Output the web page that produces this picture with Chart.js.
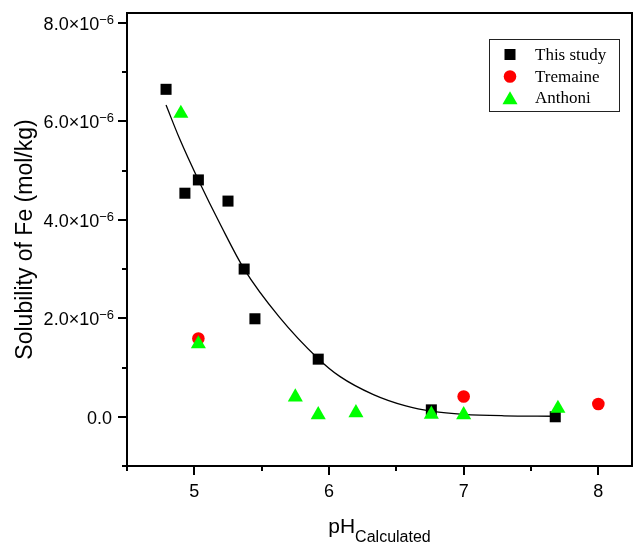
<!DOCTYPE html>
<html lang="en">
<head>
    <meta charset="UTF-8">
    <title>Solubility of Fe vs pH</title>
    <style>
        body { margin: 0; background: #fff; }
        canvas { display: block; }
    </style>
</head>
<body>
    <canvas id="feChart" width="634" height="543"></canvas>

    <script src="https://cdn.jsdelivr.net/npm/chart.js"></script>
    <script>
        // Data (solubility in mol/kg)
        const studyPH = [4.79, 4.93, 5.03, 5.25, 5.37, 5.45, 5.92, 6.76, 7.68];
        const studySol = [6.65e-6, 4.54e-6, 4.81e-6, 4.38e-6, 3.0e-6, 1.99e-6, 1.17e-6, 0.14e-6, 0.0];

        const tremainePH = [5.03, 7.0, 8.0];
        const tremaineSol = [1.59e-6, 0.41e-6, 0.26e-6];

        const anthoniPH = [4.90, 5.03, 5.75, 5.92, 6.20, 6.76, 7.0, 7.70];
        const anthoniSol = [6.16e-6, 1.48e-6, 0.40e-6, 0.04e-6, 0.08e-6, 0.05e-6, 0.04e-6, 0.17e-6];

        // fitted curve
        const fitPH = [4.79, 4.89, 5.03, 5.2, 5.37, 5.63, 5.92, 6.08, 6.33, 6.57, 6.77, 7.0, 7.3, 7.67];
        const fitSol = [6.33e-6, 5.65e-6, 4.81e-6, 3.87e-6, 3.0e-6, 2.03e-6, 1.18e-6, 0.82e-6, 0.45e-6, 0.22e-6, 0.11e-6, 0.05e-6, 0.02e-6, 0.01e-6];

        // ticks
        const xMajorTicks = [5, 6, 7, 8];
        const xMinorTicks = [4.5, 5.5, 6.5, 7.5];
        const yMajorTicks = [0, 2e-6, 4e-6, 6e-6, 8e-6];
        const yMinorTicks = [-1e-6, 1e-6, 3e-6, 5e-6, 7e-6];
        const yTickLabels = ['0.0', '2.0×10', '4.0×10', '6.0×10', '8.0×10'];
        const yTickExps = ['', '−6', '−6', '−6', '−6'];

        const seriesNames = ['This study', 'Tremaine', 'Anthoni'];

        const toPoints = (xs, ys) => xs.map((x, i) => ({ x: x, y: ys[i] }));

        const SANS = '"Liberation Sans", Arial, sans-serif';
        const SERIF = '"Liberation Serif", "Times New Roman", serif';

        // draws the box, tick marks, tick labels, x title and legend
        const framePlugin = {
            id: 'frame',
            afterDraw(chart) {
                const ctx = chart.ctx;
                const a = chart.chartArea;
                const xs = chart.scales.x;
                const ys = chart.scales.y;

                ctx.save();
                ctx.strokeStyle = '#000';
                ctx.lineWidth = 2;
                ctx.strokeRect(a.left, a.top, a.right - a.left, a.bottom - a.top);

                ctx.beginPath();
                xMajorTicks.forEach(v => {
                    const px = Math.round(xs.getPixelForValue(v));
                    ctx.moveTo(px, a.bottom); ctx.lineTo(px, a.bottom + 9);
                });
                xMinorTicks.forEach(v => {
                    const px = Math.round(xs.getPixelForValue(v));
                    ctx.moveTo(px, a.bottom); ctx.lineTo(px, a.bottom + 5);
                });
                yMajorTicks.forEach(v => {
                    const py = Math.round(ys.getPixelForValue(v));
                    ctx.moveTo(a.left, py); ctx.lineTo(a.left - 9, py);
                });
                yMinorTicks.forEach(v => {
                    const py = Math.round(ys.getPixelForValue(v));
                    ctx.moveTo(a.left, py); ctx.lineTo(a.left - 5, py);
                });
                ctx.stroke();

                // x tick labels
                ctx.fillStyle = '#000';
                ctx.font = '18px ' + SANS;
                ctx.textAlign = 'center';
                ctx.textBaseline = 'alphabetic';
                xMajorTicks.forEach(v => {
                    ctx.fillText(String(v), xs.getPixelForValue(v), a.bottom + 31);
                });

                // y tick labels with superscript exponent
                yMajorTicks.forEach((v, i) => {
                    const py = ys.getPixelForValue(v);
                    const right = a.left - 13;
                    ctx.textAlign = 'right';
                    if (yTickExps[i]) {
                        ctx.font = '13px ' + SANS;
                        const ew = ctx.measureText(yTickExps[i]).width;
                        ctx.fillText(yTickExps[i], right, py + 1);
                        ctx.font = '18px ' + SANS;
                        ctx.fillText(yTickLabels[i], right - ew, py + 7);
                    } else {
                        ctx.font = '18px ' + SANS;
                        ctx.fillText(yTickLabels[i], right - 2, py + 7);
                    }
                });

                // x title: pH with subscript
                ctx.textAlign = 'left';
                ctx.font = '21px ' + SANS;
                const w1 = ctx.measureText('pH').width;
                ctx.font = '16px ' + SANS;
                const w2 = ctx.measureText('Calculated').width;
                const cx = (a.left + a.right) / 2;
                const x0 = cx - (w1 + w2) / 2;
                ctx.font = '21px ' + SANS;
                ctx.fillText('pH', x0, 533);
                ctx.font = '16px ' + SANS;
                ctx.fillText('Calculated', x0 + w1, 541.5);

                // legend
                ctx.lineWidth = 1;
                ctx.strokeStyle = '#222';
                ctx.strokeRect(489.5, 39.5, 130, 72);
                const rows = [54.5, 76.5, 98];
                const mx = 510;
                ctx.fillStyle = '#000';
                ctx.fillRect(mx - 5.5, rows[0] - 5.5, 11, 11);
                ctx.fillStyle = '#ff0000';
                ctx.beginPath();
                ctx.arc(mx, rows[1], 6.3, 0, Math.PI * 2);
                ctx.fill();
                ctx.fillStyle = '#00ff00';
                ctx.beginPath();
                const r = 8.7;
                const cy = rows[2] + 2;
                ctx.moveTo(mx, cy - r);
                ctx.lineTo(mx + r * 0.866, cy + r / 2);
                ctx.lineTo(mx - r * 0.866, cy + r / 2);
                ctx.closePath();
                ctx.fill();

                ctx.fillStyle = '#000';
                ctx.font = '17px ' + SERIF;
                ctx.textBaseline = 'middle';
                seriesNames.forEach((name, i) => {
                    ctx.fillText(name, 535, rows[i] + 1);
                });
                ctx.restore();
            }
        };

        const ctx = document.getElementById('feChart').getContext('2d');
        const feChart = new Chart(ctx, {
            type: 'scatter',
            data: {
                datasets: [
                    {
                        label: 'Fit',
                        type: 'line',
                        data: toPoints(fitPH, fitSol),
                        borderColor: '#000',
                        borderWidth: 1.3,
                        pointRadius: 0,
                        fill: false,
                        cubicInterpolationMode: 'monotone',
                        order: 4
                    },
                    {
                        label: seriesNames[0],
                        data: toPoints(studyPH, studySol),
                        pointStyle: 'rect',
                        pointRadius: 7.8,
                        pointHoverRadius: 7.8,
                        backgroundColor: '#000',
                        borderWidth: 0,
                        order: 3
                    },
                    {
                        label: seriesNames[1],
                        data: toPoints(tremainePH, tremaineSol),
                        pointStyle: 'circle',
                        pointRadius: 6.3,
                        backgroundColor: '#ff0000',
                        borderWidth: 0,
                        order: 2
                    },
                    {
                        label: seriesNames[2],
                        data: toPoints(anthoniPH, anthoniSol),
                        pointStyle: 'triangle',
                        pointRadius: 8.7,
                        backgroundColor: '#00ff00',
                        borderWidth: 0,
                        order: 1
                    }
                ]
            },
            options: {
                responsive: false,
                animation: false,
                devicePixelRatio: 1,
                layout: {
                    autoPadding: false,
                    padding: { top: 13, right: 2, left: 0, bottom: 0 }
                },
                plugins: {
                    legend: { display: false },
                    tooltip: { enabled: false }
                },
                scales: {
                    x: {
                        type: 'linear',
                        min: 4.5,
                        max: 8.25,
                        ticks: { display: false },
                        grid: { display: false },
                        border: { display: false },
                        afterFit: s => {
                            s.height = 77;
                            s.paddingLeft = 0;
                            s.paddingRight = 0;
                        }
                    },
                    y: {
                        type: 'linear',
                        min: -1e-6,
                        max: 8.2e-6,
                        ticks: { display: false },
                        grid: { display: false },
                        border: { display: false },
                        title: {
                            display: true,
                            text: 'Solubility of Fe (mol/kg)',
                            color: '#000',
                            font: { family: SANS, size: 23 },
                            padding: { top: 12, bottom: 0 }
                        },
                        afterFit: s => {
                            s.width = 127;
                            s.paddingTop = 0;
                            s.paddingBottom = 0;
                        }
                    }
                }
            },
            plugins: [framePlugin]
        });
    </script>
</body>
</html>
